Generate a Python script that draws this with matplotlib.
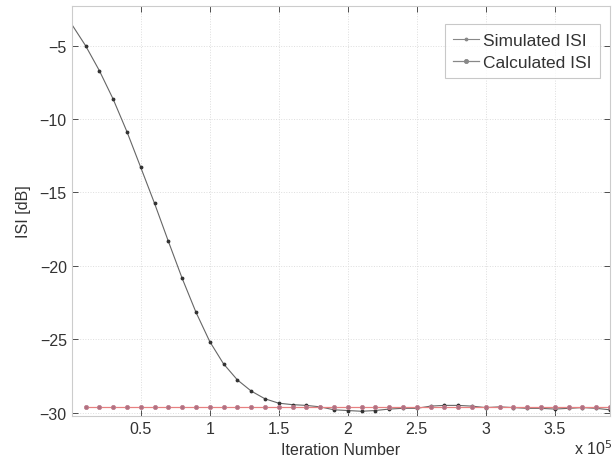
import numpy as np
import matplotlib
matplotlib.use("Agg")
import matplotlib.pyplot as plt

plt.rcParams['font.family'] = ['Liberation Sans', 'DejaVu Sans']

# Iteration number in units of 1e5
iters = [0.0, 0.1, 0.2, 0.3, 0.4, 0.5, 0.6, 0.7, 0.8, 0.9, 1.0,
         1.1, 1.2, 1.3, 1.4, 1.5, 1.6, 1.7, 1.8, 1.9, 2.0,
         2.1, 2.2, 2.3, 2.4, 2.5, 2.6, 2.7, 2.8, 2.9, 3.0,
         3.1, 3.2, 3.3, 3.4, 3.5, 3.6, 3.7, 3.8, 3.9]

simulated_isi = [-3.55, -5.0, -6.7, -8.64, -10.86, -13.29, -15.74, -18.32, -20.84, -23.15, -25.15,
                 -26.67, -27.76, -28.52, -29.05, -29.35, -29.45, -29.5, -29.6, -29.8, -29.85,
                 -29.9, -29.85, -29.75, -29.7, -29.7, -29.55, -29.5, -29.5, -29.55, -29.65,
                 -29.6, -29.65, -29.7, -29.7, -29.75, -29.7, -29.65, -29.7, -29.8]

calculated_isi = [-29.6] * len(iters)

fig = plt.figure(figsize=(6.13, 4.64), dpi=100)
ax = fig.add_axes([0.117, 0.102, 0.878, 0.883])

ax.plot(iters, simulated_isi, color='#666666', linewidth=0.8, marker='.', markersize=3.5,
        markerfacecolor='#333333', markeredgecolor='#333333', markevery=slice(1, None),
        label='Simulated ISI')
ax.plot(iters[1:], calculated_isi[1:], color='#e88080', linewidth=0.9, marker='o', markersize=3,
        markerfacecolor='#b07080', markeredgecolor='#c08090', markeredgewidth=0.6,
        label='Calculated ISI')

ax.set_xlim(0, 3.9)
ax.set_ylim(-30.2, -2.3)
ax.set_xticks([0.5, 1, 1.5, 2, 2.5, 3, 3.5])
ax.set_xticklabels(['0.5', '1', '1.5', '2', '2.5', '3', '3.5'])
ax.set_yticks([-30, -25, -20, -15, -10, -5])
ax.set_yticklabels(['\u221230', '\u221225', '\u221220', '\u221215', '\u221210', '\u22125'])

ax.tick_params(direction='in', top=True, right=True, labelsize=11.5, colors='#333333',
               length=4, width=0.6)
for s in ax.spines.values():
    s.set_color('#cccccc')
    s.set_linewidth(0.8)

ax.grid(True, color='#dddddd', linestyle=':', linewidth=0.7)

ax.set_xlabel('Iteration Number', fontsize=11.5, color='#333333', labelpad=5)
ax.set_ylabel('ISI [dB]', fontsize=11.5, color='#333333', labelpad=6)
fig.text(0.999, 0.012, r'x 10$^5$', ha='right', va='bottom', fontsize=11.5, color='#333333')

leg = ax.legend(loc='upper right', bbox_to_anchor=(0.988, 0.965), fontsize=12.5, frameon=True,
                fancybox=False, handlelength=1.5, handletextpad=0.2, borderpad=0.5,
                labelspacing=0.4, borderaxespad=0.2)
leg.get_frame().set_edgecolor('#bbbbbb')
leg.get_frame().set_linewidth(0.8)
for t in leg.get_texts():
    t.set_color('#333333')
for h in leg.legend_handles:
    h.set_color('#888888')
    h.set_markerfacecolor('#888888')
    h.set_markeredgecolor('#888888')

fig.savefig('out.png', dpi=100)
